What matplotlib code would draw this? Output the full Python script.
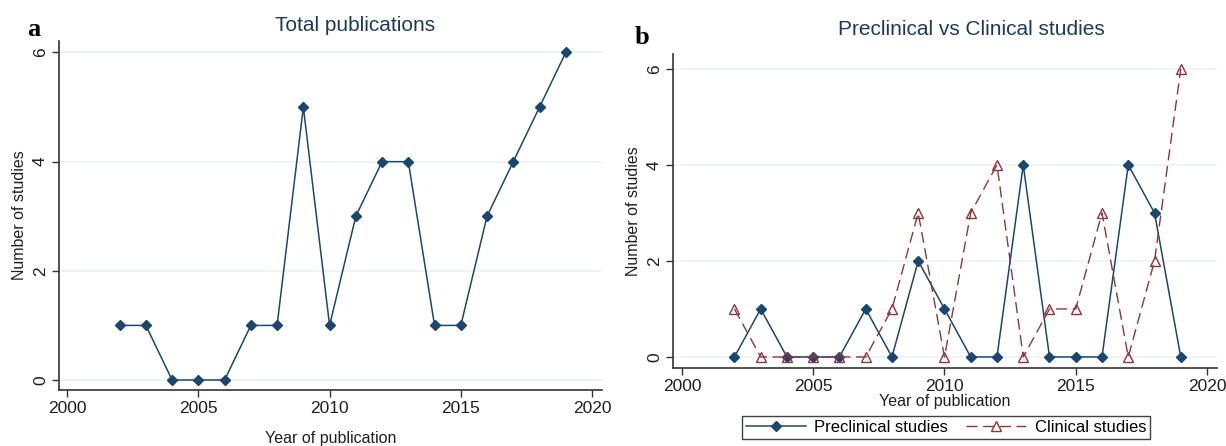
import matplotlib
matplotlib.use("Agg")
import matplotlib.pyplot as plt
from matplotlib.lines import Line2D

years = list(range(2002, 2020))
total = [1, 1, 0, 0, 0, 1, 1, 5, 1, 3, 4, 4, 1, 1, 3, 4, 5, 6]
preclinical = [0, 1, 0, 0, 0, 1, 0, 2, 1, 0, 0, 4, 0, 0, 0, 4, 3, 0]
clinical = [1, 0, 0, 0, 0, 0, 1, 3, 0, 3, 4, 0, 1, 1, 3, 0, 2, 6]
xticks = [2000, 2005, 2010, 2015, 2020]
yticks = [0, 2, 4, 6]

navy = "#1a476f"
maroon = "#90353b"
grid_c = "#eef1f2"
txt = "#1f1f1f"
title_c = "#1e3a5a"

plt.rcParams['font.family'] = ['Liberation Sans', 'DejaVu Sans']

fig = plt.figure(figsize=(12.26, 4.46), dpi=100)
W, H = 1226, 446

def mkax(l, r, t, b):
    return fig.add_axes([l / W, (H - b) / H, (r - l) / W, (b - t) / H])

ax1 = mkax(59, 602, 41, 390)
ax2 = mkax(673, 1217, 54, 368)

def style(ax, xlim, ylim):
    ax.set_xlim(*xlim)
    ax.set_ylim(*ylim)
    ax.set_xticks(xticks)
    ax.set_yticks(yticks)
    for s in ["top", "right"]:
        ax.spines[s].set_visible(False)
    for s in ["left", "bottom"]:
        ax.spines[s].set_color("#333333")
        ax.spines[s].set_linewidth(1.2)
    ax.tick_params(axis="both", colors="#333333", labelcolor=txt, labelsize=12.5,
                   length=5, width=1, pad=3)
    for lab in ax.get_yticklabels():
        lab.set_rotation(90)
        lab.set_va("center")
    ax.grid(axis="y", color=grid_c, linewidth=1.2)
    ax.set_axisbelow(True)
    ax.set_ylabel("Number of studies", fontsize=11.5, color=txt, labelpad=4)

# Panel a
ax1.plot(years, total, color=navy, lw=1.1, marker="D", ms=5.5, mfc=navy, mec=navy)
style(ax1, (1999.69, 2020.38), (-0.183, 6.21))
ax1.set_xlabel("Year of publication", fontsize=11.5, color=txt, labelpad=11)
ax1.set_title("Total publications", fontsize=15, color=title_c, pad=7, x=0.545)
fig.text(34 / W, 1 - 30 / H, "a", fontsize=19, fontweight="bold",
         family="Liberation Serif", va="center", ha="center")

# Panel b
ax2.plot(years, preclinical, color=navy, lw=1.1, marker="D", ms=5.5, mfc=navy, mec=navy,
         label="Preclinical studies")
ax2.plot(years, clinical, color=maroon, lw=1.0, ls=(0, (8, 4)), marker="^", ms=7,
         mfc="none", mec=maroon, label="Clinical studies")
style(ax2, (1999.66, 2020.38), (-0.23, 6.31))
ax2.set_xlabel("Year of publication", fontsize=11.5, color=txt, labelpad=0)
ax2.set_title("Preclinical vs Clinical studies", fontsize=15, color=title_c, pad=14, x=0.548)
fig.text(642 / W, 1 - 37 / H, "b", fontsize=19, fontweight="bold",
         family="Liberation Serif", va="center", ha="center")

handles = [
    Line2D([], [], color=navy, lw=1.1, marker="D", ms=5.5, mfc=navy, mec=navy),
    Line2D([], [], color=maroon, lw=1.0, ls=(0, (8, 4)), marker="^", ms=7, mfc="none", mec=maroon),
]
leg = fig.legend(handles, ["Preclinical studies", "Clinical studies"], loc="upper center",
                 bbox_to_anchor=(946 / W, 1 - 416 / H), ncol=2, frameon=True, fancybox=False,
                 edgecolor="#111111", fontsize=12, handlelength=3.6, borderpad=0.25,
                 columnspacing=1.1, handletextpad=0.5, borderaxespad=0)
leg.get_frame().set_linewidth(1.0)

fig.savefig("out.png", dpi=100, facecolor="white")
